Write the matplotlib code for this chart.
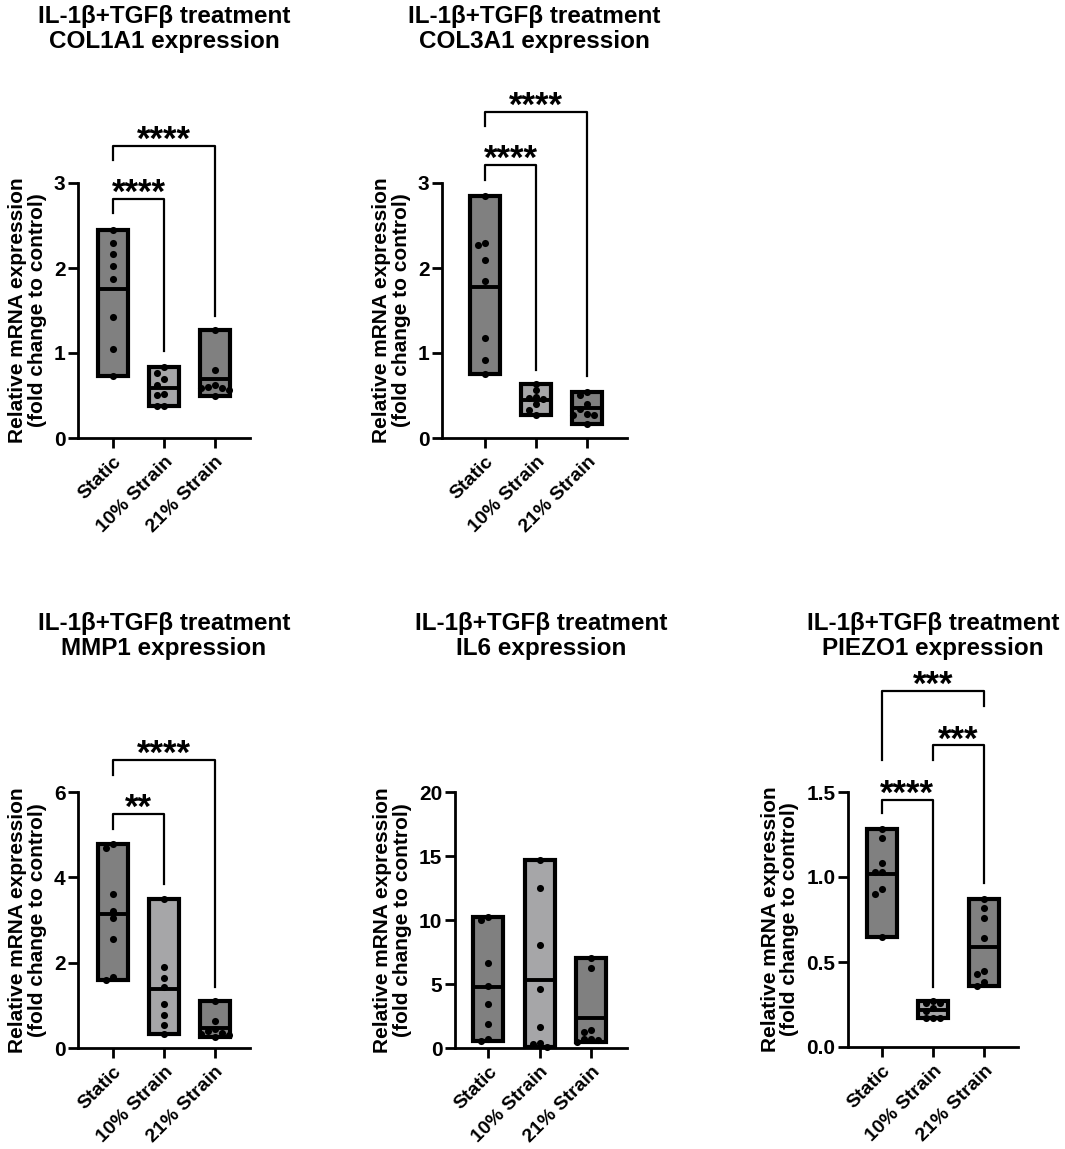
import numpy as np
import matplotlib
matplotlib.use('Agg')
import matplotlib.pyplot as plt

plt.rcParams['font.family'] = ['Liberation Sans', 'DejaVu Sans']
plt.rcParams['font.weight'] = 'bold'
plt.rcParams['axes.labelweight'] = 'bold'

# ---- data ----
groups = ['Static', '10% Strain', '21% Strain']
group_colors = ['#808080', '#a6a6a8', '#808080']

col1a1_static = [2.45, 2.29, 2.16, 2.02, 1.87, 1.42, 1.05, 0.73]
col1a1_10 = [0.84, 0.77, 0.69, 0.62, 0.51, 0.52, 0.38, 0.38]
col1a1_21 = [1.27, 0.80, 0.62, 0.60, 0.59, 0.57, 0.59, 0.50]

col3a1_static = [2.85, 2.29, 2.27, 2.09, 1.85, 1.18, 0.92, 0.75]
col3a1_10 = [0.64, 0.56, 0.48, 0.47, 0.46, 0.40, 0.33, 0.27]
col3a1_21 = [0.54, 0.51, 0.40, 0.34, 0.27, 0.27, 0.28, 0.17]

mmp1_static = [4.69, 4.77, 3.60, 3.21, 3.05, 2.56, 1.60, 1.66]
mmp1_10 = [3.50, 1.91, 1.63, 1.43, 1.02, 0.77, 0.55, 0.32]
mmp1_21 = [1.10, 0.64, 0.44, 0.40, 0.36, 0.32, 0.30, 0.25]

il6_static = [10.03, 10.23, 6.67, 4.82, 3.46, 1.85, 0.55, 0.73]
il6_10 = [14.66, 12.53, 8.07, 4.64, 1.64, 0.39, 0.08, 0.34]
il6_21 = [7.06, 6.25, 1.25, 1.38, 0.47, 0.73, 0.65, 0.73]

piezo1_static = [1.28, 1.23, 1.08, 1.03, 1.03, 0.93, 0.90, 0.65]
piezo1_10 = [0.27, 0.26, 0.26, 0.23, 0.21, 0.17, 0.17, 0.17]
piezo1_21 = [0.87, 0.82, 0.76, 0.64, 0.45, 0.43, 0.385, 0.36]

# significance: (group a, group b, bracket y, left leg end, right leg end, stars)
col1a1_sig = [(0, 1, 2.81, 2.65, 1.02, '****'), (0, 2, 3.44, 3.27, 1.44, '****')]
col3a1_sig = [(0, 1, 3.21, 3.04, 0.80, '****'), (0, 2, 3.84, 3.67, 0.73, '****')]
mmp1_sig = [(0, 1, 5.49, 5.14, 3.85, '**'), (0, 2, 6.76, 6.39, 1.43, '****')]
il6_sig = []
piezo1_sig = [(0, 1, 1.452, 1.374, 0.352, '****'), (1, 2, 1.775, 1.687, 0.963, '***'),
              (0, 2, 2.094, 1.691, 2.004, '***')]

W, H = 1065, 1149
fig = plt.figure(figsize=(W / 100, H / 100), dpi=100)

# panel layout in pixels: left, right, y of zero, y of top, xlim
panels = [
    ('COL1A1', [col1a1_static, col1a1_10, col1a1_21], col1a1_sig,
     (78, 250, 438, 183, (-0.69, 2.69)), [0, 1, 2, 3], '{:g}'),
    ('COL3A1', [col3a1_static, col3a1_10, col3a1_21], col3a1_sig,
     (442, 627, 438, 183, (-0.84, 2.78)), [0, 1, 2, 3], '{:g}'),
    ('MMP1', [mmp1_static, mmp1_10, mmp1_21], mmp1_sig,
     (78, 250, 1048, 792, (-0.69, 2.69)), [0, 2, 4, 6], '{:g}'),
    ('IL6', [il6_static, il6_10, il6_21], il6_sig,
     (455, 627, 1048, 792, (-0.65, 2.70)), [0, 5, 10, 15, 20], '{:g}'),
    ('PIEZO1', [piezo1_static, piezo1_10, piezo1_21], piezo1_sig,
     (848, 1018, 1047, 792, (-0.66, 2.66)), [0.0, 0.5, 1.0, 1.5], '{:.1f}'),
]


def swarm_offsets(vals, ypx, xpx, d=7.0):
    """simple beeswarm: returns x offsets in data units"""
    vals = np.asarray(vals, dtype=float)
    placed = []
    offs = np.zeros(len(vals))
    for idx in np.argsort(vals)[::-1]:
        y = vals[idx] * ypx
        for k in [0, -1, 1, -2, 2, -3, 3]:
            x = k * d
            if all((x - px) ** 2 + (y - py) ** 2 >= (0.95 * d) ** 2 for px, py in placed):
                break
        placed.append((x, y))
        offs[idx] = x / xpx
    return offs


box_w = 0.58

for name, series, sigs, (l, r, y0, yt, xlim), yticks, fmt in panels:
    ax = fig.add_axes([l / W, 1 - y0 / H, (r - l) / W, (y0 - yt) / H])
    ytop = yticks[-1]
    ax.set_xlim(*xlim)
    ax.set_ylim(0, ytop)
    ypx = (y0 - yt) / ytop
    xpx = (r - l) / (xlim[1] - xlim[0])

    for i, vals in enumerate(series):
        lo, hi = min(vals), max(vals)
        ax.bar(i, hi - lo, bottom=lo, width=box_w, color=group_colors[i],
               edgecolor='black', linewidth=3.0, zorder=2, clip_on=False)
        m = np.mean(vals)
        ax.plot([i - box_w / 2, i + box_w / 2], [m, m], color='black', lw=2.8,
                zorder=3, clip_on=False, solid_capstyle='butt')
        offs = swarm_offsets(vals, ypx, xpx)
        ax.scatter(i + offs, vals, s=26, color='black', zorder=4, clip_on=False,
                   linewidths=0)

    for a, b, yb, la, lb, stars in sigs:
        ax.plot([a, a, b, b], [la, yb, yb, lb], color='black', lw=1.6,
                clip_on=False, zorder=5)
        ax.annotate(stars, xy=((a + b) / 2, yb), xytext=(0, -3),
                    textcoords='offset points', ha='center', va='baseline',
                    fontsize=25, fontweight='bold', annotation_clip=False)

    ax.set_xticks(range(len(groups)))
    ax.set_xticklabels(groups, rotation=45, ha='right', va='top',
                       rotation_mode='anchor', fontsize=14, fontweight='bold')
    ax.set_yticks(yticks)
    ax.set_yticklabels([fmt.format(t) for t in yticks], fontsize=15,
                       fontweight='bold')
    ax.tick_params(axis='both', length=7, width=2, pad=2)
    ax.tick_params(axis='x', pad=4)
    for s in ['top', 'right']:
        ax.spines[s].set_visible(False)
    for s in ['left', 'bottom']:
        ax.spines[s].set_linewidth(2)
    ax.set_ylabel('Relative mRNA expression\n(fold change to control)',
                  fontsize=15, fontweight='bold', linespacing=1.05, labelpad=5)
    ax.patch.set_visible(False)

    cx = (l + r) / 2
    ty = 29 if y0 < 600 else 636
    fig.text(cx / W, 1 - ty / H, 'IL-1β+TGFβ treatment\n' + name + ' expression',
             ha='center', va='center', fontsize=17.5, fontweight='bold',
             linespacing=1.12)

fig.savefig('out.png', dpi=100)
